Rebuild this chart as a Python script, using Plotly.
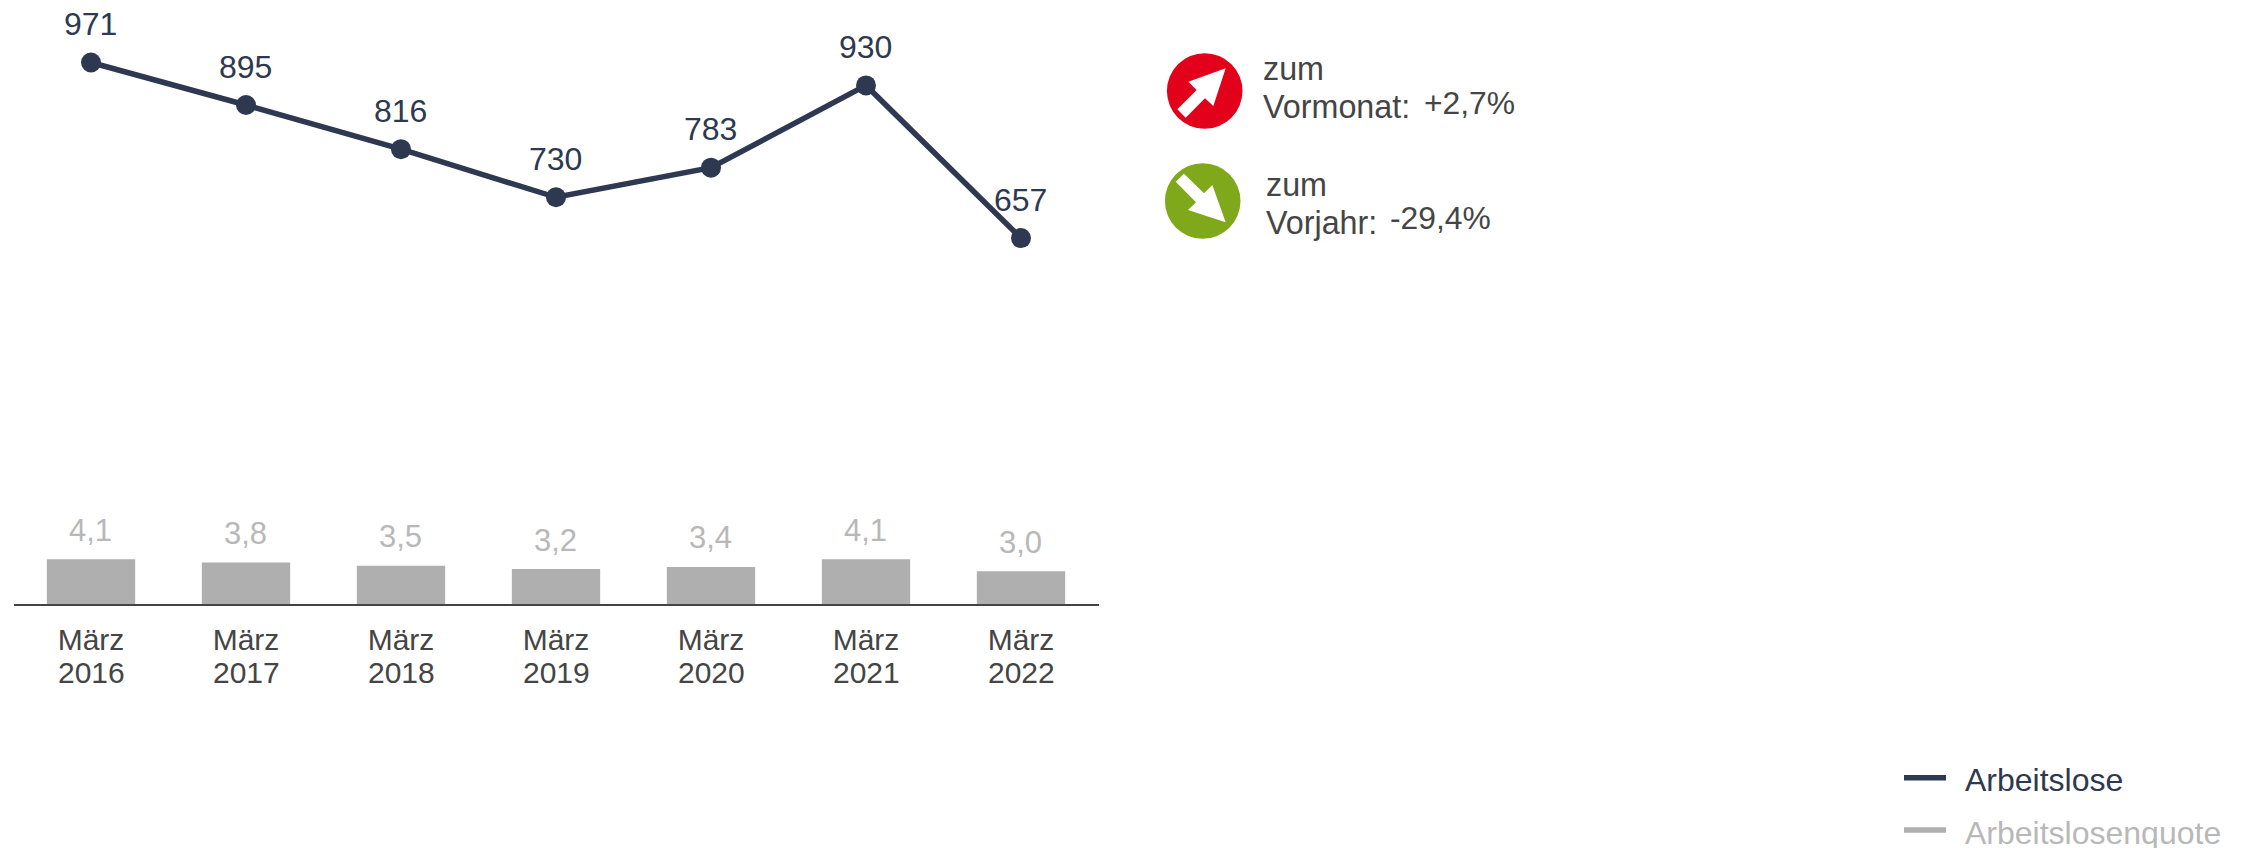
import plotly.graph_objects as go

W, H = 2247, 848
FONT = "Liberation Sans"
DARK = "#2e3850"
GREY = "#afafaf"
GREYTXT = "#b8b8b8"
TXT = "#454545"

months = ["März"] * 7
years = ["2016", "2017", "2018", "2019", "2020", "2021", "2022"]
arbeitslose = [971, 895, 816, 730, 783, 930, 657]
quote = [4.1, 3.8, 3.5, 3.2, 3.4, 4.1, 3.0]
series_names = ["Arbeitslose", "Arbeitslosenquote"]
categories = [f"{m} {y}" for m, y in zip(months, years)]
quote_labels = [f"{v:.1f}".replace(".", ",") for v in quote]
line_labels = [str(v) for v in arbeitslose]

def px(x):
    return x / W

def py(y):
    return 1 - y / H

def zoom_path(points):
    # icon outline
    coords = [(px(1120 + a / 3), py(30 + b / 3)) for a, b in points]
    return "M " + " L ".join(f"{a:.5f},{b:.5f}" for a, b in coords) + " Z"

fig = go.Figure()
fig.add_trace(go.Bar(
    x=categories, y=quote, marker=dict(color=GREY, line=dict(width=0)),
    showlegend=False, hoverinfo="skip", yaxis="y",
))
fig.add_trace(go.Scatter(
    x=categories, y=arbeitslose, mode="lines+markers", name=series_names[0],
    line=dict(color=DARK, width=5.5), marker=dict(color=DARK, size=20),
    yaxis="y2", showlegend=False, cliponaxis=False,
))

annotations = []
for i, (yr, v, vl, q, ql) in enumerate(zip(years, arbeitslose, line_labels, quote, quote_labels)):
    annotations.append(dict(
        x=i, xref="x", y=py(672), yref="paper", text=yr, showarrow=False,
        xanchor="center", yanchor="middle",
        font=dict(family=FONT, size=30, color=TXT),
    ))
    annotations.append(dict(
        x=i, xref="x", y=v, yref="y2", text=vl, showarrow=False, yshift=38.5, xshift=-1,
        xanchor="center", yanchor="middle",
        font=dict(family=FONT, size=32, color=DARK),
    ))
    annotations.append(dict(
        x=i, xref="x", y=q, yref="y", text=ql, showarrow=False, yshift=29, xshift=-1,
        xanchor="center", yanchor="middle",
        font=dict(family=FONT, size=31, color=GREYTXT),
    ))

def note(x, base, text, size=32.3, color=TXT):
    annotations.append(dict(
        x=px(x), xref="paper", y=py(base - size * 0.355), yref="paper", text=text,
        showarrow=False, xanchor="left", yanchor="middle", xshift=-3,
        font=dict(family=FONT, size=size, color=color),
    ))

note(1264, 80, "zum")
note(1264, 118, "Vormonat:")
note(1425, 114, "+2,7%", size=31.8)
note(1267, 196, "zum")
note(1267, 234, "Vorjahr:")
note(1391, 229, "-29,4%", size=31.8)
note(1966.5, 791, series_names[0], size=32, color=DARK)
note(1966, 844, series_names[1], size=32, color=GREYTXT)

def circle(cx, cy, r, color):
    return dict(type="circle", xref="paper", yref="paper",
                x0=px(cx - r), x1=px(cx + r), y0=py(cy + r), y1=py(cy - r),
                fillcolor=color, line=dict(width=0), layer="above")

def swatch(y, color):
    return dict(type="line", xref="paper", yref="paper", x0=px(1904), x1=px(1946),
                y0=py(y), y1=py(y), line=dict(color=color, width=5.5), layer="above")

up_arrow = [(317, 115), (280, 228), (255, 205), (197, 263), (172, 238), (230, 180), (205, 155)]
down_arrow = [(317, 577), (204, 540), (228, 517), (167, 455), (192, 431), (252, 490), (277, 465)]

shapes = [
    circle(1204.7, 91, 37.8, "#e2001a"),
    dict(type="path", xref="paper", yref="paper", path=zoom_path(up_arrow),
         fillcolor="white", line=dict(width=0), layer="above"),
    circle(1202.7, 201, 37.8, "#7fa81b"),
    dict(type="path", xref="paper", yref="paper", path=zoom_path(down_arrow),
         fillcolor="white", line=dict(width=0), layer="above"),
    swatch(777.7, DARK),
    swatch(830, GREY),
]

fig.update_layout(
    width=W, height=H, autosize=False,
    margin=dict(l=0, r=0, t=0, b=0, pad=0),
    paper_bgcolor="white", plot_bgcolor="white",
    bargap=0.43, showlegend=False,
    xaxis=dict(domain=[px(13.5), px(1098.5)], type="category", categoryorder="array",
               categoryarray=categories, range=[-0.5, 6.5],
               tickvals=categories, ticktext=months, tickangle=0,
               showgrid=False, zeroline=False, showline=True, linecolor="#444444", linewidth=1.5,
               ticks="", tickfont=dict(family=FONT, size=30, color=TXT), ticklabelstandoff=8,
               anchor="y"),
    yaxis=dict(domain=[py(604.3), 1], range=[0, 604.3 / 11], visible=False),
    yaxis2=dict(domain=[py(604.3), 1], range=[2.1, 1082.8], overlaying="y", visible=False),
    annotations=annotations, shapes=shapes,
)
fig.write_html("out.html", config=dict(displayModeBar=False),
               post_script="document.body.style.margin='0';")
